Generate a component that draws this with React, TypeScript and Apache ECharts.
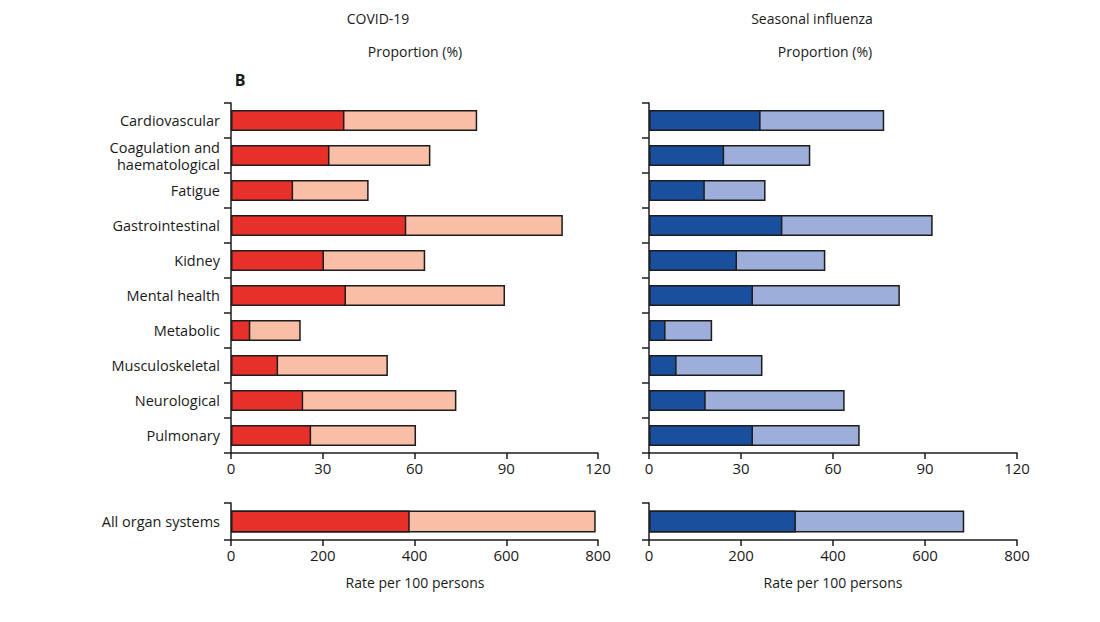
import React, { useEffect, useRef } from "react";
import * as echarts from "echarts";

const categories = [
  "Cardiovascular",
  "Coagulation and\nhaematological",
  "Fatigue",
  "Gastrointestinal",
  "Kidney",
  "Mental health",
  "Metabolic",
  "Musculoskeletal",
  "Neurological",
  "Pulmonary",
];
const covidDark = [37.1, 32.2, 20.3, 57.3, 30.4, 37.6, 6.3, 15.4, 23.6, 26.2];
const covidTotal = [80.5, 65.2, 45.0, 108.5, 63.5, 89.6, 22.8, 51.3, 73.7, 60.5];
const fluDark = [36.4, 24.5, 18.2, 43.5, 28.7, 33.9, 5.4, 9.0, 18.5, 33.9];
const fluTotal = [76.7, 52.6, 38.0, 92.5, 57.5, 81.8, 20.6, 37.0, 63.8, 68.7];

const allCategory = ["All organ systems"];
const covidAllDark = [389.6];
const covidAllTotal = [795];
const fluAllDark = [319.4];
const fluAllTotal = [685.3];

const topTicks = { min: 0, max: 120, interval: 30 };
const bottomTicks = { min: 0, max: 800, interval: 200 };

const FONT = "'Open Sans', 'Noto Sans', sans-serif";
const TXT = "#1a1a1a";
const BORDER = "#1c1c1c";

export default function App() {
  const ref = useRef<HTMLDivElement>(null);
  useEffect(() => {
    if (!ref.current) return;
    const chart = echarts.init(ref.current, undefined, { renderer: "svg" });

    const grids = [
      { left: 231, top: 103, width: 367, height: 350 },
      { left: 649, top: 103, width: 368, height: 350 },
      { left: 231, top: 503, width: 367, height: 37 },
      { left: 649, top: 503, width: 368, height: 37 },
    ];

    const xAxis = grids.map((_, i) => {
      const t = i < 2 ? topTicks : bottomTicks;
      return {
        type: "value",
        gridIndex: i,
        min: t.min,
        max: t.max,
        interval: t.interval,
        splitLine: { show: false },
        axisLine: { show: true, lineStyle: { color: BORDER, width: 1.5 } },
        axisTick: { show: true, length: 6, lineStyle: { color: BORDER, width: 1.5 } },
        axisLabel: { color: TXT, fontSize: 15, fontFamily: FONT, margin: 7 },
      };
    });

    const yAxis = grids.map((_, i) => ({
      type: "category",
      gridIndex: i,
      data: i < 2 ? categories : allCategory,
      inverse: true,
      axisLine: { show: true, lineStyle: { color: BORDER, width: 1.5 } },
      axisTick: { show: true, length: 7, lineStyle: { color: BORDER, width: 1.5 } },
      axisLabel: {
        show: i % 2 === 0,
        color: TXT,
        fontSize: 14.5,
        fontFamily: FONT,
        margin: 11,
        lineHeight: 17,
        align: "right",
      },
    }));

    const mk = (
      i: number,
      data: number[],
      color: string,
      width: number,
      z: number
    ) => ({
      type: "bar",
      xAxisIndex: i,
      yAxisIndex: i,
      data,
      barWidth: width,
      barGap: "-100%",
      z,
      itemStyle: { color, borderColor: BORDER, borderWidth: 1.5 },
      silent: true,
    });

    const redD = "#e8302a";
    const redL = "#f8bea6";
    const blueD = "#1a4f9e";
    const blueL = "#9daedb";

    const t = (text: string, cx: number, top: number, size = 14, weight = "normal") => ({
      type: "text",
      x: cx,
      y: top,
      style: {
        text,
        font: `${weight} ${size}px ${FONT}`,
        fill: TXT,
        align: "center",
        verticalAlign: "middle",
      },
    });

    chart.setOption({
      animation: false,
      backgroundColor: "#fff",
      textStyle: { fontFamily: FONT },
      grid: grids,
      xAxis,
      yAxis,
      series: [
        mk(0, covidTotal, redL, 21, 2),
        mk(0, covidDark, redD, 21, 3),
        mk(1, fluTotal, blueL, 21, 2),
        mk(1, fluDark, blueD, 21, 3),
        mk(2, covidAllTotal, redL, 22, 2),
        mk(2, covidAllDark, redD, 22, 3),
        mk(3, fluAllTotal, blueL, 22, 2),
        mk(3, fluAllDark, blueD, 22, 3),
      ],
      graphic: [
        t("COVID-19", 378, 18),
        t("Proportion (%)", 415, 51),
        t("B", 240, 80, 16, "bold"),
        t("Seasonal influenza", 812, 18),
        t("Proportion (%)", 825, 51),
        t("Rate per 100 persons", 415, 582),
        t("Rate per 100 persons", 833, 582),
      ],
    });
    return () => chart.dispose();
  }, []);
  return (
    <div
      ref={ref}
      style={{ position: "fixed", left: 0, top: 0, width: 1100, height: 622, background: "#fff" }}
    />
  );
}
